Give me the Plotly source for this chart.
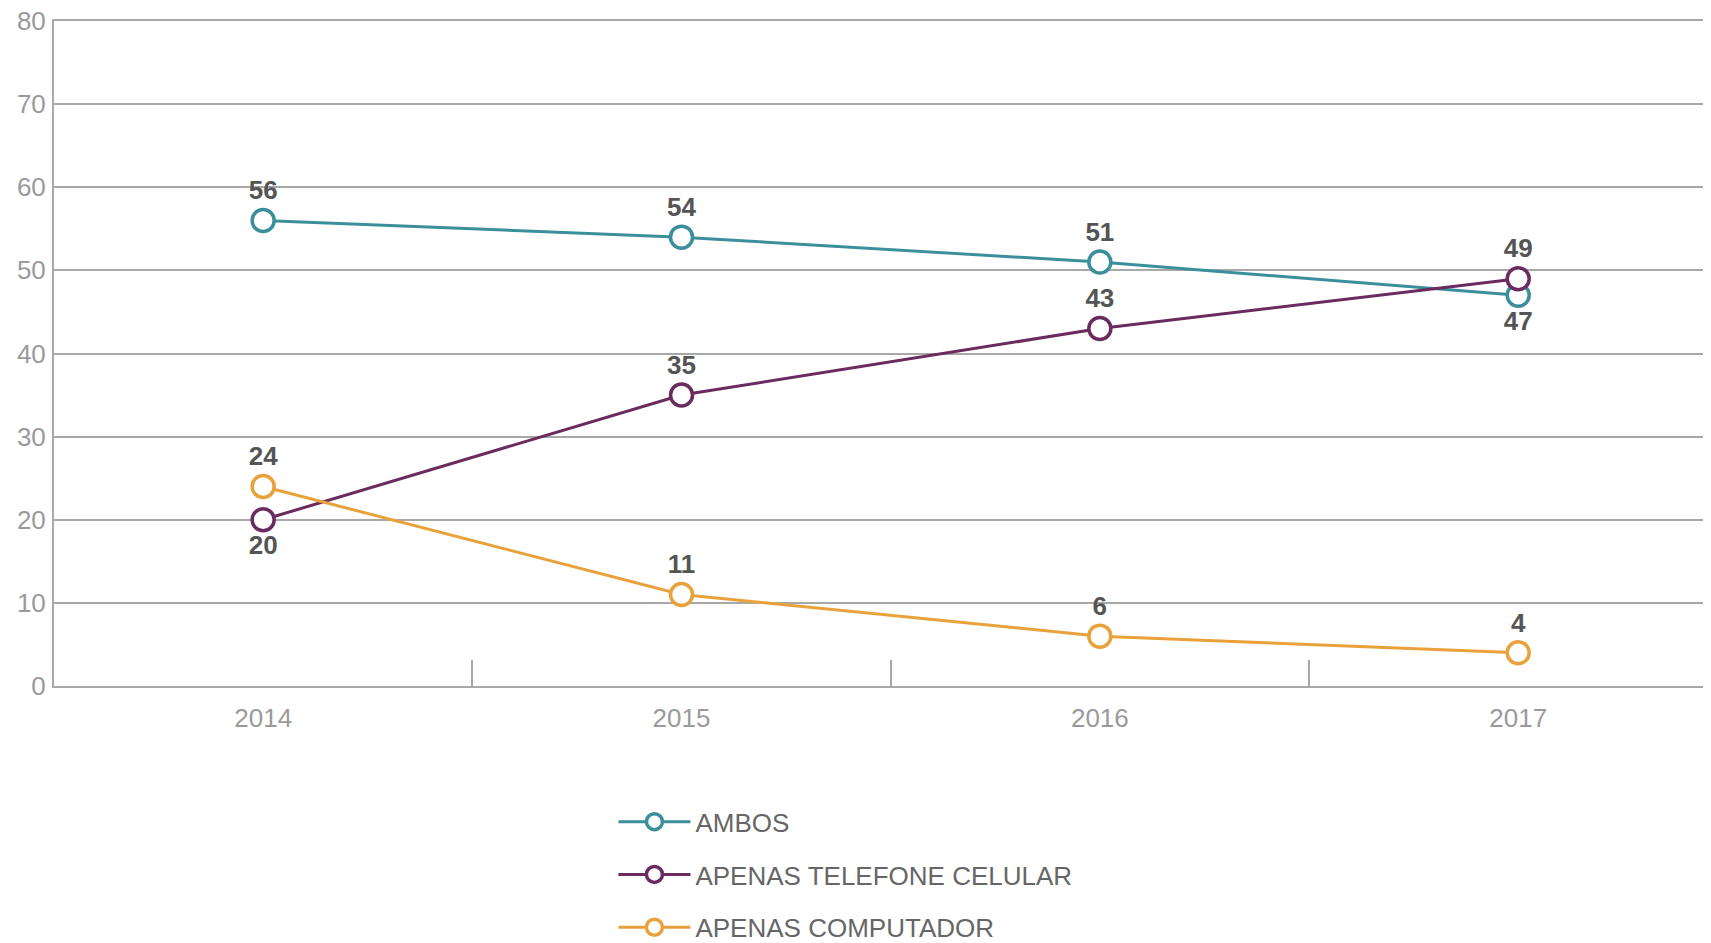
import plotly.graph_objects as go

years = ["2014", "2015", "2016", "2017"]
ambos = [56, 54, 51, 47]
celular = [20, 35, 43, 49]
computador = [24, 11, 6, 4]
names = ["AMBOS", "APENAS TELEFONE CELULAR", "APENAS COMPUTADOR"]
colors = ["#3a8f9b", "#6a2b5e", "#e9a23b"]
positions = [
    ["top center", "top center", "top center", "bottom center"],
    ["bottom center", "top center", "top center", "top center"],
    ["top center", "top center", "top center", "top center"],
]
yticks = [0, 10, 20, 30, 40, 50, 60, 70, 80]

fig = go.Figure()
for i, (vals, name, col) in enumerate(zip([ambos, celular, computador], names, colors)):
    fig.add_trace(go.Scatter(
        x=years, y=vals, name=name, mode="lines+markers+text",
        text=[str(v) for v in vals], textposition=positions[i],
        textfont=dict(family="Liberation Sans", size=26, color="#555555", weight="bold"),
        line=dict(color=col, width=3),
        marker=dict(symbol="circle", size=22, color="white", line=dict(color=col, width=3.5)),
        legendgroup=name,
    ))

fig.update_layout(
    width=1711, height=943,
    paper_bgcolor="white", plot_bgcolor="white",
    margin=dict(l=46, r=0, t=13, b=265, autoexpand=False),
    font=dict(family="Liberation Sans", color="#999999"),
    showlegend=True,
    legend=dict(
        x=0.336, y=0.162, xref="paper", yref="container", xanchor="left", yanchor="top",
        font=dict(family="Liberation Sans", size=26, color="#666666"),
        tracegroupgap=16, itemwidth=72, bgcolor="rgba(0,0,0,0)",
    ),
    xaxis=dict(
        type="category", range=[-0.5, 3.48],
        showgrid=False, showline=True, linecolor="#a8a8a8", linewidth=2, mirror=True,
        tickson="boundaries", ticks="inside", ticklen=26, tickcolor="#a8a8a8", tickwidth=2,
        tickfont=dict(size=26, color="#9a9a9a"), ticklabelstandoff=8,
        fixedrange=True,
    ),
    yaxis=dict(
        range=[0, 80], tickvals=yticks,
        showgrid=True, gridcolor="#a8a8a8", gridwidth=2,
        showline=True, linecolor="#a8a8a8", linewidth=2,
        zeroline=False, ticks="", tickfont=dict(size=26, color="#9a9a9a"),
        ticklabelstandoff=1, ticklabeloverflow="allow",
    ),
)

fig.write_html("out.html")
